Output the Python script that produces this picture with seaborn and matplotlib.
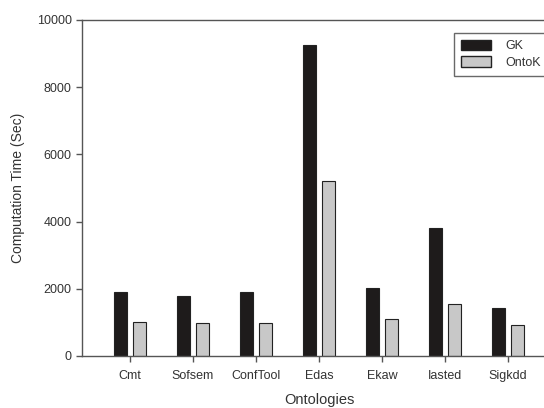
import matplotlib
matplotlib.use("Agg")
import matplotlib.pyplot as plt
import seaborn as sns
import pandas as pd
from matplotlib.patches import Patch

categories = ["Cmt", "Sofsem", "ConfTool", "Edas", "Ekaw", "Iasted", "Sigkdd"]
gk = [1915, 1795, 1915, 9270, 2030, 3800, 1440]
ontok = [1000, 975, 975, 5220, 1100, 1555, 925]
series = ["GK", "OntoK"]
colors = ["#1e1b1b", "#c8c8c8"]

df = pd.DataFrame({
    "Ontology": categories * 2,
    "Time": gk + ontok,
    "Method": [series[0]] * len(categories) + [series[1]] * len(categories),
})

sns.set_style("white")
plt.rcParams['font.family'] = ['Liberation Sans', 'DejaVu Sans']

fig = plt.figure(figsize=(5.44, 4.08), dpi=100)
ax = fig.add_axes([82/544, 1-356/408, (556-82)/544, (356-20)/408])

sns.barplot(data=df, x="Ontology", y="Time", hue="Method", palette=colors,
            width=0.6, gap=0.33, edgecolor="#222222", linewidth=0.8,
            legend=False, ax=ax)

ax.set_xlim(-0.76, 6.76)
ax.set_ylim(0, 10000)
ax.set_yticks([0, 2000, 4000, 6000, 8000, 10000])
ax.set_xticks(range(len(categories)))
ax.set_xticklabels(categories)
for sp in ax.spines.values():
    sp.set_color("#555555")
    sp.set_linewidth(1.0)
ax.tick_params(axis="both", direction="out", length=4, width=1, color="#555555",
               labelsize=9, labelcolor="#333333", bottom=True, left=True)
ax.tick_params(axis="x", pad=6)
ax.set_xlabel("Ontologies", fontsize=10.5, color="#333333", labelpad=8)
ax.set_ylabel("Computation Time (Sec)", fontsize=10, color="#333333", labelpad=8)

handles = [Patch(facecolor=colors[0], edgecolor="#222222", label=series[0]),
           Patch(facecolor=colors[1], edgecolor="#222222", label=series[1])]
leg = ax.legend(handles=handles, loc="upper right",
                bbox_to_anchor=(548/544, 1 - 33/408),
                bbox_transform=fig.transFigure, borderaxespad=0,
                frameon=True, fancybox=False,
                fontsize=9, handlelength=2.4, handleheight=0.9, borderpad=0.55,
                labelspacing=0.3, handletextpad=1.2)
leg.get_frame().set_edgecolor("#444444")
leg.get_frame().set_linewidth(1.0)
for t in leg.get_texts():
    t.set_color("#333333")

fig.savefig("out.png", dpi=100)
